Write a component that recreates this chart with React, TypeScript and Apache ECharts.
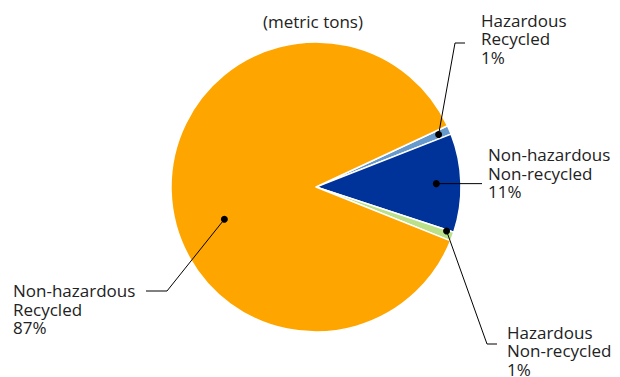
import React, { useEffect, useRef } from "react";
import * as echarts from "echarts";

// Waste breakdown by type, share of total (metric tons)
const categories = [
  "Hazardous\nRecycled",
  "Non-hazardous\nNon-recycled",
  "Hazardous\nNon-recycled",
  "Non-hazardous\nRecycled",
];
const shares = [1, 11, 1, 87];
const sliceColors = ["#6699CC", "#003399", "#BAE08A", "#FFA500"];
const unitTitle = "(metric tons)";

// pie geometry (px)
const CX = 316;
const CY = 187;
const R = 145;
const START_ANGLE = 25;

// leader layout per slice: dot placed at slice middle angle (+ offset) and a
// fraction of the radius, then an elbow, the end of the leader and the text anchor
type Leader = {
  dAngle: number;
  rFrac: number;
  elbow: [number, number | null];
  end: [number, number | null];
  text: [number, number];
};
const leaders: Leader[] = [
  { dAngle: 0, rFrac: 0.92, elbow: [455, 43], end: [465, 43], text: [481, 38.5] },
  { dAngle: 0, rFrac: 0.83, elbow: [460, null], end: [482, null], text: [488, 173] },
  { dAngle: 1.4, rFrac: 0.95, elbow: [487, 344], end: [497, 344], text: [507, 350.5] },
  { dAngle: 17.8, rFrac: 0.67, elbow: [167, 291], end: [146, 291], text: [13, 309] },
];

const FONT = "'Open Sans', 'Noto Sans', sans-serif";
const TEXT_COLOR = "#222";

function dotPoint(i: number): [number, number] {
  const total = shares.reduce((a, b) => a + b, 0);
  let cum = 0;
  for (let j = 0; j < i; j++) cum += shares[j];
  const mid = START_ANGLE - ((cum + shares[i] / 2) / total) * 360 + leaders[i].dAngle;
  const rad = (mid * Math.PI) / 180;
  const r = R * leaders[i].rFrac;
  return [CX + r * Math.cos(rad), CY - r * Math.sin(rad)];
}

export default function App() {
  const ref = useRef<HTMLDivElement>(null);

  useEffect(() => {
    document.body.style.margin = "0";
    if (!ref.current) return;
    const chart = echarts.init(ref.current, undefined, { renderer: "svg" });

    // leader lines and their end dots, anchored inside each slice
    const leaderMarks: any[] = [];
    shares.forEach((_, i) => {
      const d = dotPoint(i);
      const L = leaders[i];
      leaderMarks.push({
        type: "polyline",
        shape: {
          points: [
            d,
            [L.elbow[0], L.elbow[1] ?? d[1]],
            [L.end[0], L.end[1] ?? d[1]],
          ],
        },
        style: { stroke: "#000", lineWidth: 1, fill: null },
        z: 100,
        silent: true,
      });
      leaderMarks.push({
        type: "circle",
        shape: { cx: d[0], cy: d[1], r: 3.5 },
        style: { fill: "#000" },
        z: 101,
        silent: true,
      });
    });

    chart.setOption({
      animation: false,
      title: {
        text: unitTitle,
        left: 258,
        top: 8,
        textStyle: {
          fontFamily: FONT,
          fontSize: 17,
          fontWeight: "normal",
          color: TEXT_COLOR,
        },
      },
      graphic: leaderMarks,
      series: [
        {
          type: "pie",
          center: [CX, CY],
          radius: R,
          startAngle: START_ANGLE,
          clockwise: true,
          percentPrecision: 0,
          silent: true,
          data: categories.map((name, i) => ({
            name,
            value: shares[i],
            itemStyle: { color: sliceColors[i] },
          })),
          itemStyle: { borderColor: "#fff", borderWidth: 1.5 },
          label: {
            show: true,
            formatter: "{b}\n{d}%",
            fontFamily: FONT,
            fontSize: 17,
            lineHeight: 18.5,
            color: TEXT_COLOR,
            align: "left",
            overflow: "none",
            width: 160,
          },
          labelLine: { show: false },
          labelLayout: (params: any) => {
            const L = leaders[params.dataIndex];
            return {
              x: L.text[0],
              y: L.text[1],
              align: "left",
              verticalAlign: "middle",
            };
          },
        },
      ],
    });

    return () => chart.dispose();
  }, []);

  return <div ref={ref} style={{ width: 620, height: 377 }} />;
}
